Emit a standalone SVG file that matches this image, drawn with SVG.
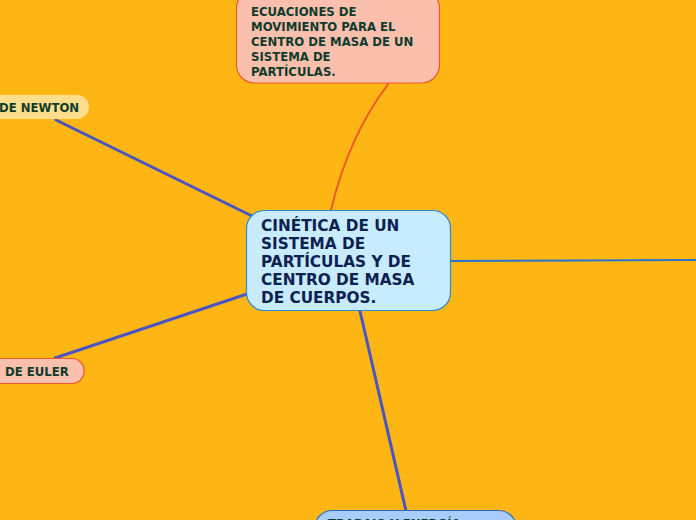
<svg xmlns="http://www.w3.org/2000/svg" width="696" height="520" viewBox="0 0 696 520">
<style>
.sub{font-family:"DejaVu Sans",Verdana,sans-serif;font-weight:bold;font-size:11.7px;fill:#0d3b2c}
.main{font-family:"DejaVu Sans",Verdana,sans-serif;font-weight:bold;font-size:15.3px;fill:#0b2150}
.blue{fill:none;stroke:#4a55c3;stroke-width:3;stroke-linecap:round}
</style>
<rect width="696" height="520" fill="#fdb614"/>
<g id="connectors">
<path d="M331,210 C343,160 362,118 389,83" fill="none" stroke="#f0582a" stroke-width="2"/>
<path class="blue" d="M56,120 L252,216"/>
<path class="blue" d="M55,358 L247,294"/>
<path class="blue" d="M360,311 L406,511"/>
<path d="M451,261 L696,260" fill="none" stroke="#2a72d0" stroke-width="2"/>
</g>
<g id="node-ecuaciones">
<rect x="236.5" y="-10" width="203" height="93" rx="18" fill="#fbbfae" stroke="#f0582a" stroke-width="1.2"/>
<text class="sub"><tspan x="251" y="16">ECUACIONES DE</tspan><tspan x="251" y="31">MOVIMIENTO PARA EL</tspan><tspan x="251" y="46">CENTRO DE MASA DE UN</tspan><tspan x="251" y="61">SISTEMA DE</tspan><tspan x="251" y="76">PARTÍCULAS.</tspan></text>
</g>
<g id="node-newton">
<rect x="-20" y="95" width="109" height="24" rx="12" fill="#fedd8b"/>
<text class="sub" x="-1" y="111.5">DE NEWTON</text>
</g>
<g id="node-euler">
<rect x="-20" y="358.5" width="104" height="25" rx="12" fill="#fbbfae" stroke="#f0582a" stroke-width="1.2"/>
<text class="sub" x="5" y="375.5">DE EULER</text>
</g>
<g id="node-central">
<rect x="246.5" y="210.5" width="204" height="100" rx="18" fill="#c8ebfd" stroke="#2b8ad4" stroke-width="1.2"/>
<text class="main"><tspan x="261" y="231">CINÉTICA DE UN</tspan><tspan x="261" y="249">SISTEMA DE</tspan><tspan x="261" y="267">PARTÍCULAS Y DE</tspan><tspan x="261" y="285">CENTRO DE MASA</tspan><tspan x="261" y="303">DE CUERPOS.</tspan></text>
</g>
<g id="node-trabajo">
<rect x="314.5" y="510.5" width="202" height="60" rx="18" fill="#a9cdfb" stroke="#2a6fd0" stroke-width="1.2"/>
<text class="sub" x="328" y="528">TRABAJO Y ENERGÍA</text>
</g>
</svg>
